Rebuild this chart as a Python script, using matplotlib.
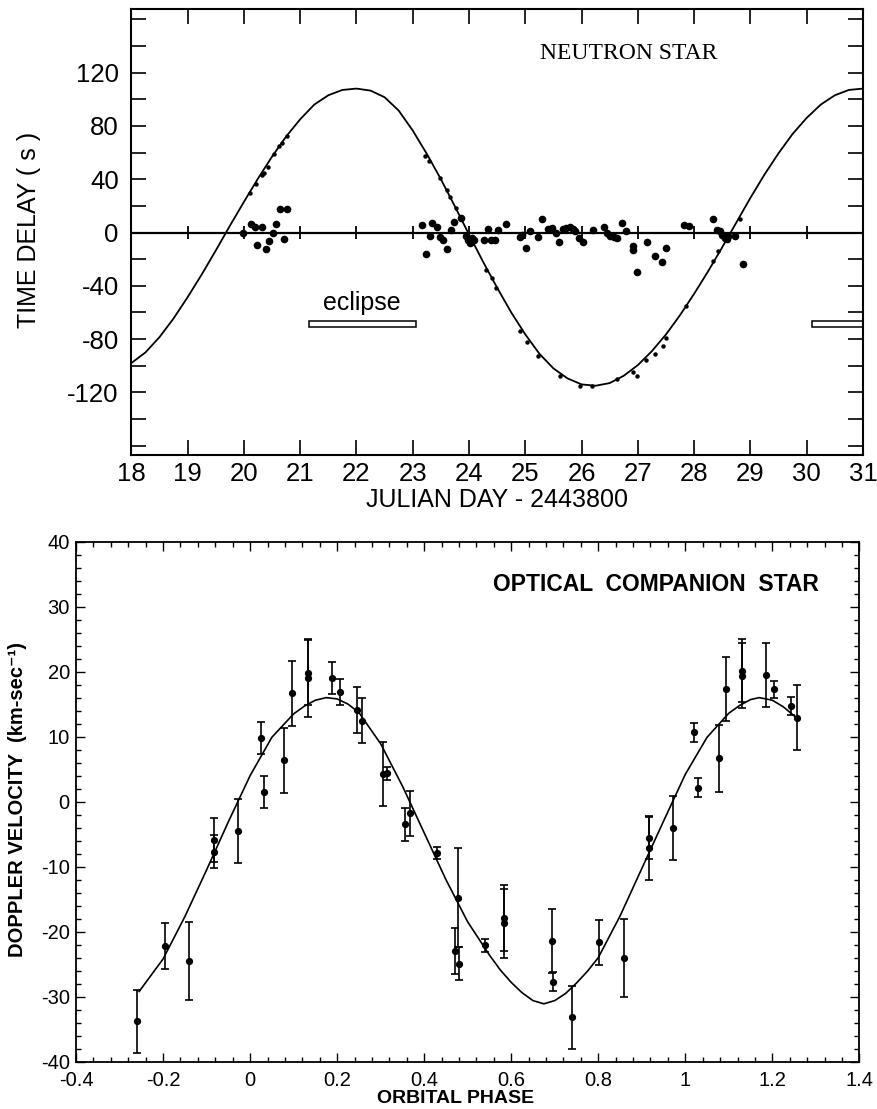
import matplotlib
matplotlib.use('Agg')
import matplotlib.pyplot as plt
from matplotlib.ticker import MultipleLocator, FixedLocator

plt.rcParams['font.family'] = ['Liberation Sans', 'DejaVu Sans']
plt.rcParams['axes.unicode_minus'] = False

# ---------------- top panel: neutron star pulse time delays ----------------
curve_day = [18.0, 18.25, 18.5, 18.75, 19.0, 19.25, 19.5, 19.75, 20.0, 20.25,
             20.5, 20.75, 21.0, 21.25, 21.5, 21.75, 22.0, 22.25, 22.5, 22.75,
             23.0, 23.25, 23.5, 23.75, 24.0, 24.25, 24.5, 24.75, 25.0, 25.25,
             25.5, 25.75, 26.0, 26.25, 26.5, 26.75, 27.0, 27.25, 27.5, 27.75,
             28.0, 28.25, 28.5, 28.75, 29.0, 29.25, 29.5, 29.75, 30.0, 30.25,
             30.5, 30.75, 31.0]
curve_delay = [-98, -90, -78.5, -64.5, -48.5, -31.5, -13.5, 5, 23, 40.5,
               57, 72, 85, 96, 103, 107, 108, 106.5, 101.5, 91.5,
               76.5, 59, 40, 19.5, -1.5, -22, -41.5, -60, -76.5, -91,
               -102, -109.5, -114, -115, -113, -107.5, -99.5, -89, -76.5, -62,
               -46, -29, -11, 7.5, 26, 43.5, 59.5, 74, 86, 96,
               103, 107, 108]

# residual delays (large dots, scattered about zero)
resid_day = [19.99, 20.12, 20.20, 20.32, 20.24, 20.39, 20.45, 20.51, 20.57, 20.64, 20.76, 20.71,
             23.16, 23.23, 23.30, 23.35, 23.43, 23.49, 23.54, 23.61, 23.68, 23.74, 23.85,
             23.95, 23.98, 24.00, 24.03, 24.05, 24.08, 24.02,
             24.27, 24.33, 24.39, 24.46, 24.52, 24.66, 24.91, 24.94, 25.01, 25.09, 25.22,
             25.29, 25.41, 25.48, 25.54, 25.60, 25.67, 25.73, 25.79, 25.84, 25.88, 25.96,
             26.02, 26.20, 26.39, 26.45, 26.51, 26.57, 26.63, 26.72, 26.79, 26.91, 26.92,
             26.99, 27.17, 27.31, 27.43, 27.50,
             27.82, 27.90, 28.33, 28.40, 28.46, 28.50, 28.55, 28.60, 28.58, 28.73, 28.86]
resid_delay = [0, 6.5, 4.5, 4, -9.2, -12.5, -6.7, -0.5, 6.2, 18, 17.5, -5,
               5.8, -16, -2.5, 7.5, 4.5, -3.7, -6, -12.5, 2, 8.2, 10.7,
               -3, -6, -5, -7, -4, -6, -8,
               -6, 2.5, -6, -5.5, 2, 6.5, -3.5, -1.8, -12, 0.8, -3.5,
               10, 2.5, 3.3, -0.5, -7.5, 2.5, 3.3, 3.8, 2.5, 1.5, -4.2,
               -6.8, 2, 4, -0.5, -2.5, -3.5, -4.2, 7, 1.5, -10.5, -13.5,
               -29.3, -7.5, -18, -22.2, -11.3,
               5.8, 4.8, 10.3, 2, 0.8, -2, -4, -3, -5, -3, -23.5]

# measured delays lying on the orbit curve (small dots)
meas_day = [20.11, 20.22, 20.32, 20.36, 20.42, 20.53, 20.62, 20.67, 20.76,
            23.22, 23.28, 23.49, 23.61, 23.67, 23.76,
            24.31, 24.40, 24.48, 24.91, 25.03, 25.23, 25.62, 25.98, 26.19, 26.63,
            26.92, 26.98, 27.15, 27.31, 27.44, 27.50, 27.86, 28.33, 28.43, 28.81]
meas_delay = [29.5, 36.5, 43.3, 45, 49.5, 59, 65, 67, 72.5,
              57.5, 53.3, 41, 32, 27, 18.3,
              -28, -34, -41.7, -74, -82.5, -93, -108, -115, -115.5, -110,
              -105, -107.5, -95.5, -91, -85.5, -79, -55, -21.7, -14.2, 10]

eclipse_start = [21.15, 30.10]
eclipse_end = [23.05, 31.30]
eclipse_level = -68.5

top_xticks = list(range(18, 32))
top_ylabel_ticks = [-120, -80, -40, 0, 40, 80, 120]
zero_line_ticks = list(range(19, 31))

# ---------------- bottom panel: optical companion radial velocity ----------------
fit_phase = [-0.255, -0.20, -0.15, -0.10, -0.05, 0.00, 0.05, 0.10, 0.125, 0.15, 0.175,
             0.20, 0.225, 0.25, 0.30, 0.35, 0.40, 0.45, 0.50, 0.55, 0.575, 0.60,
             0.625, 0.65, 0.675, 0.70, 0.725, 0.75, 0.775, 0.80, 0.85, 0.90, 0.95,
             1.00, 1.05, 1.10, 1.125, 1.15, 1.17, 1.20, 1.225, 1.25, 1.255]
fit_vel = [-29.2, -24.2, -17.7, -10.5, -3.1, 4.0, 9.9, 13.5, 14.7, 15.6, 16.0,
           15.8, 15.0, 13.7, 8.9, 2.4, -4.8, -12.0, -18.5, -23.6, -25.9, -27.8,
           -29.4, -30.6, -31.1, -30.6, -29.5, -27.9, -26.1, -24.0, -17.6, -10.3, -3.0,
           4.2, 9.9, 13.6, 14.8, 15.7, 16.0, 15.6, 14.6, 13.2, 12.9]

obs_phase = [-0.261, -0.196, -0.140, -0.082, -0.082, -0.027, 0.024, 0.033, 0.078, 0.096,
             0.132, 0.132, 0.189, 0.206, 0.245, 0.258, 0.306, 0.315, 0.356, 0.368,
             0.429, 0.471, 0.477, 0.481, 0.540, 0.583, 0.583, 0.693, 0.697, 0.740,
             0.802, 0.858, 0.917, 0.917, 0.971, 1.021, 1.030, 1.077, 1.094, 1.130,
             1.130, 1.185, 1.204, 1.243, 1.256]
obs_vel = [-33.8, -22.2, -24.5, -5.9, -7.7, -4.5, 9.8, 1.5, 6.4, 16.7,
           19.8, 19.0, 19.0, 16.9, 14.1, 12.45, 4.2, 4.4, -3.5, -1.8,
           -7.95, -23.0, -14.8, -24.9, -22.1, -17.9, -18.7, -21.45, -27.7, -33.2,
           -21.65, -24.0, -5.55, -7.2, -4.0, 10.65, 2.15, 6.65, 17.3, 20.15,
           19.4, 19.5, 17.3, 14.7, 12.9]
obs_err = [4.9, 3.5, 6.0, 3.4, 2.5, 4.95, 2.45, 2.45, 5.0, 5.0,
           5.0, 6.0, 2.5, 2.0, 3.5, 3.5, 4.9, 1.0, 2.5, 3.5,
           0.9, 3.5, 7.6, 2.6, 1.0, 5.1, 5.3, 4.95, 1.5, 4.85,
           3.5, 6.0, 3.3, 4.9, 4.9, 1.45, 1.5, 5.1, 4.9, 4.9,
           5.0, 4.9, 1.3, 1.4, 5.0]

bot_xticks = [-0.4, -0.2, 0.0, 0.2, 0.4, 0.6, 0.8, 1.0, 1.2, 1.4]
bot_xticklabels = ['-0.4', '-0.2', '0', '0.2', '0.4', '0.6', '0.8', '1', '1.2', '1.4']
bot_yticks = [-40, -30, -20, -10, 0, 10, 20, 30, 40]

# ---------------- figure ----------------
fig = plt.figure(figsize=(8.77, 11.09), dpi=100)

ax = fig.add_axes([0.1498, 0.5897, 0.8342, 0.4019])
ax.plot(curve_day, curve_delay, color='black', lw=1.3)
ax.axhline(0, color='black', lw=1.6)
ax.vlines(zero_line_ticks, -5, 5, color='black', lw=1.3)
ax.plot(resid_day, resid_delay, 'o', color='black', ms=5.5, mec='none')
ax.plot(meas_day, meas_delay, 'o', color='black', ms=3.2, mec='none')
ax.barh([eclipse_level] * len(eclipse_start),
        [e - s for s, e in zip(eclipse_start, eclipse_end)],
        left=eclipse_start, height=4.5, facecolor='white', edgecolor='black',
        lw=1.1, clip_on=True)
ax.text(22.1, -53, 'eclipse', ha='center', va='center', fontsize=18)
ax.text(26.84, 134.4, 'NEUTRON STAR', ha='center', va='center', fontsize=17,
        family=['Liberation Serif', 'DejaVu Serif'])

ax.set_xlim(18, 31)
ax.set_ylim(-167, 167.5)
ax.set_xticks(top_xticks)
ax.set_xticklabels([str(t) for t in top_xticks])
ax.yaxis.set_major_locator(FixedLocator(top_ylabel_ticks))
ax.set_yticklabels([str(t) for t in top_ylabel_ticks])
ax.yaxis.set_minor_locator(MultipleLocator(20))
ax.tick_params(which='both', direction='in', length=11, width=1.2,
               top=True, right=True, labelsize=18.5)
ax.tick_params(axis='y', pad=9)
ax.tick_params(axis='x', pad=5)
for s in ax.spines.values():
    s.set_linewidth(1.5)
ax.set_ylabel('TIME DELAY ( s )', fontsize=18)
ax.yaxis.set_label_coords(-0.124, 0.505)
ax.text(0.5, -0.1, 'JULIAN DAY - 2443800', transform=ax.transAxes,
        ha='center', va='center', fontsize=18)

ax2 = fig.add_axes([0.0867, 0.04265, 0.8932, 0.4690])
ax2.plot(fit_phase, fit_vel, color='black', lw=1.2)
ax2.errorbar(obs_phase, obs_vel, yerr=obs_err, fmt='o', color='black', ms=4.2,
             elinewidth=1.2, capsize=3, capthick=1.2)
ax2.text(0.932, 33.4, 'OPTICAL  COMPANION  STAR', ha='center', va='center',
         fontsize=16.5, fontweight='bold')
ax2.set_xlim(-0.4, 1.4)
ax2.set_ylim(-40, 40)
ax2.set_xticks(bot_xticks)
ax2.set_xticklabels(bot_xticklabels)
ax2.set_yticks(bot_yticks)
ax2.set_yticklabels([str(t) for t in bot_yticks])
ax2.xaxis.set_minor_locator(MultipleLocator(0.04))
ax2.yaxis.set_minor_locator(MultipleLocator(2))
ax2.tick_params(which='both', direction='in', top=True, right=True, width=1.0)
ax2.tick_params(which='major', length=6.5, labelsize=14.5)
ax2.tick_params(which='minor', length=3.6)
ax2.tick_params(axis='x', pad=7)
ax2.tick_params(axis='y', pad=4.5)
for s in ax2.spines.values():
    s.set_linewidth(1.3)
ax2.set_ylabel('DOPPLER VELOCITY  (km-sec⁻¹)', fontsize=14.5, fontweight='bold')
ax2.yaxis.set_label_coords(-0.062, 0.505)
ax2.text(0.485, -0.0698, 'ORBITAL PHASE', transform=ax2.transAxes,
         ha='center', va='center', fontsize=14, fontweight='bold')

fig.savefig('out.png', dpi=100)
